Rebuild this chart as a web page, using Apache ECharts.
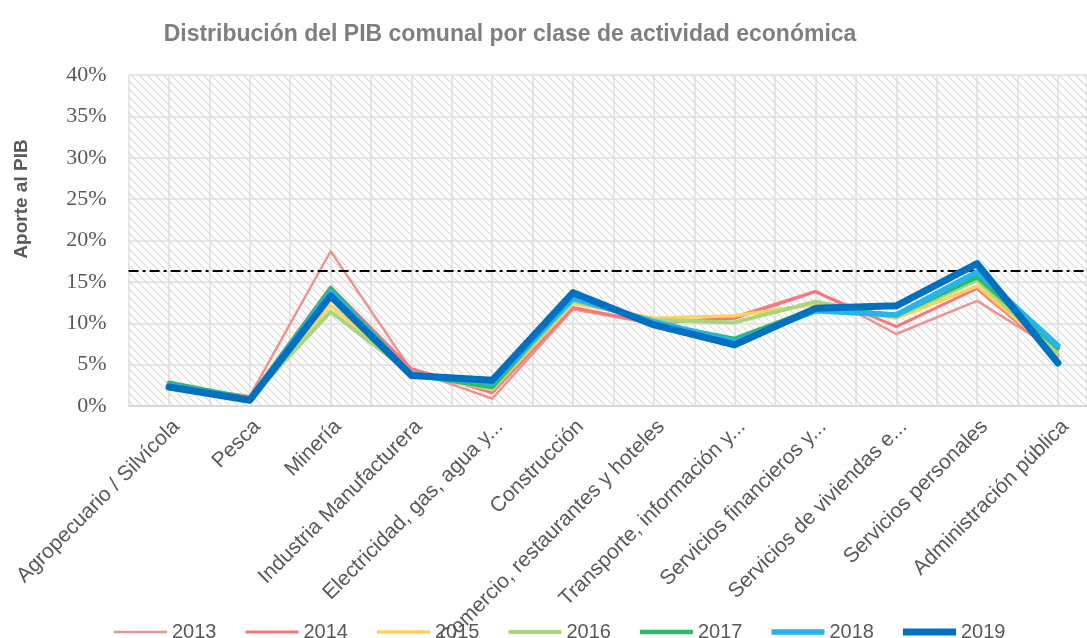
<!DOCTYPE html>
<html>
<head>
<meta charset="utf-8">
<script src="https://cdn.jsdelivr.net/npm/echarts@6/dist/echarts.min.js"></script>
<style>
  html, body { margin: 0; padding: 0; background: #fff; }
  #myChart { width: 1087px; height: 638px; }
</style>
</head>
<body>
<div id="myChart"></div>
<script>
// categorias (eje x)
var categorias = ['Agropecuario / Silvícola', 'Pesca', 'Minería', 'Industria Manufacturera',
    'Electricidad, gas, agua y...', 'Construcción', 'Comercio, restaurantes y hoteles',
    'Transporte, información y...', 'Servicios financieros y...', 'Servicios de viviendas e...',
    'Servicios personales', 'Administración pública'];

var anios = ['2013', '2014', '2015', '2016', '2017', '2018', '2019'];

// aporte al PIB (%) por año
var v2013 = [2.5, 1.2, 18.7, 4.3, 0.9, 11.7, 9.9, 10.8, 13.9, 8.7, 12.7, 6.6];
var v2014 = [2.6, 1.1, 14.4, 4.5, 1.6, 11.9, 10.0, 10.6, 13.8, 9.6, 14.2, 6.0];
var v2015 = [2.6, 1.0, 12.2, 4.0, 2.0, 12.4, 10.6, 10.9, 12.3, 10.6, 14.5, 6.2];
var v2016 = [2.7, 0.9, 11.4, 3.9, 2.1, 12.7, 10.4, 10.1, 12.6, 10.8, 15.2, 6.3];
var v2017 = [2.8, 0.9, 14.2, 3.8, 2.3, 13.3, 10.0, 8.1, 11.8, 11.0, 15.6, 7.0];
var v2018 = [2.5, 0.8, 13.8, 3.8, 2.8, 13.0, 10.2, 7.8, 11.5, 11.0, 16.2, 7.3];
var v2019 = [2.3, 0.7, 13.3, 3.7, 3.1, 13.7, 9.8, 7.4, 11.8, 12.1, 17.2, 5.2];

// linea de referencia
var promedio = 16.3;

var ticksY = [0, 5, 10, 15, 20, 25, 30, 35, 40];

var valores = [v2013, v2014, v2015, v2016, v2017, v2018, v2019];
var colores = ['#e89593', '#f8777b', '#ffd25e', '#a8d67e', '#2fb96b', '#25b5ec', '#0070c0'];
var anchos = [2.5, 3, 3.5, 4, 4.5, 5.5, 7];

// fondo rayado
function hatch() {
    var c = document.createElement('canvas');
    c.width = 8;
    c.height = 8;
    var ctx = c.getContext('2d');
    ctx.strokeStyle = '#dadada';
    ctx.lineWidth = 1.2;
    ctx.beginPath();
    ctx.moveTo(-2, -2); ctx.lineTo(10, 10);
    ctx.moveTo(-2, 6); ctx.lineTo(2, 10);
    ctx.moveTo(6, -2); ctx.lineTo(10, 2);
    ctx.stroke();
    return c;
}

// icono de leyenda: barra del grosor de la linea
function icono(w) {
    return 'path://M0,0L53,0L53,' + w + 'L0,' + w + 'Z';
}

var myChart = echarts.init(document.getElementById('myChart'));

var series = [];
var leyenda = [];
for (var i = 0; i < anios.length; i++) {
    var puntos = [];
    for (var j = 0; j < categorias.length; j++) {
        puntos.push([j, valores[i][j]]);
    }
    var s = {
        name: anios[i],
        type: 'line',
        symbol: 'none',
        data: puntos,
        color: colores[i],
        lineStyle: { width: anchos[i], color: colores[i], cap: 'round', join: 'round' },
        z: 3 + i
    };
    if (i === 0) {
        s.markLine = {
            silent: true,
            symbol: 'none',
            label: { show: false },
            lineStyle: { color: '#000', width: 2, type: [10, 4, 3, 4] },
            data: [{ yAxis: promedio }]
        };
    }
    series.push(s);
    leyenda.push({ name: anios[i], icon: icono(anchos[i]), itemStyle: { color: colores[i] } });
}

var option = {
    animation: false,
    title: {
        text: 'Distribución del PIB comunal por clase de actividad económica',
        left: 505,
        textAlign: 'center',
        top: 18,
        textStyle: {
            fontFamily: 'Liberation Sans, Arial, sans-serif',
            fontWeight: 'bold',
            fontSize: 23,
            color: '#7f7f7f'
        }
    },
    grid: {
        left: 128.6,
        top: 75,
        right: 0,
        bottom: 232,
        outerBoundsMode: 'none',
        show: true,
        borderWidth: 0,
        backgroundColor: { image: hatch(), repeat: 'repeat' }
    },
    legend: {
        data: leyenda,
        left: 109,
        top: 617,
        itemWidth: 53,
        itemHeight: 14,
        itemGap: 29,
        textStyle: {
            fontFamily: 'Liberation Sans, Arial, sans-serif',
            fontSize: 20,
            color: '#595959'
        }
    },
    graphic: [{
        type: 'text',
        x: 22,
        y: 199,
        rotation: Math.PI / 2,
        style: {
            text: 'Aporte al PIB',
            textAlign: 'center',
            textVerticalAlign: 'middle',
            fontFamily: 'Liberation Sans, Arial, sans-serif',
            fontWeight: 'bold',
            fontSize: 19,
            fill: '#595959'
        }
    }],
    xAxis: {
        type: 'value',
        min: -0.5,
        max: 11.36,
        interval: 0.5,
        axisLine: { show: true, lineStyle: { color: '#d9d9d9', width: 2 } },
        axisTick: { show: false },
        splitLine: { show: true, lineStyle: { color: '#dedede', width: 1.5 } },
        axisLabel: {
            rotate: 45,
            margin: 10,
            verticalAlign: 'top',
            showMaxLabel: false,
            fontFamily: 'Liberation Sans, Arial, sans-serif',
            fontSize: 21,
            color: '#595959',
            formatter: function (v) {
                return Number.isInteger(v) ? categorias[v] : '';
            }
        }
    },
    yAxis: {
        type: 'value',
        min: ticksY[0],
        max: ticksY[ticksY.length - 1],
        interval: 5,
        axisLine: { show: false },
        axisTick: { show: false },
        splitLine: { show: true, lineStyle: { color: '#dedede', width: 1.5 } },
        axisLabel: {
            margin: 22,
            fontFamily: 'Liberation Serif',
            fontSize: 22,
            color: '#595959',
            formatter: '{value}%'
        }
    },
    series: series
};
myChart.setOption(option);
</script>
</body>
</html>
